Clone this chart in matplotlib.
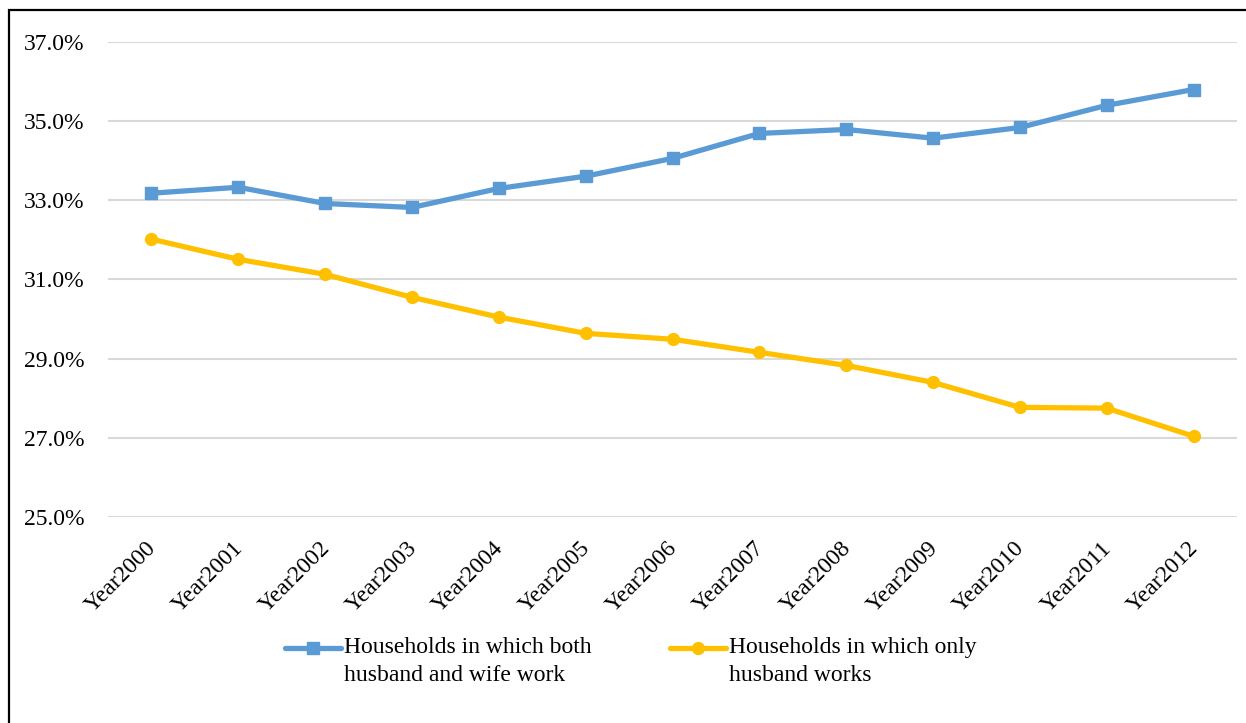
import matplotlib.pyplot as plt
from matplotlib.lines import Line2D
from matplotlib.patches import Rectangle
from matplotlib.ticker import FuncFormatter
from matplotlib.transforms import ScaledTranslation

# Chart data
years = ["Year2000", "Year2001", "Year2002", "Year2003", "Year2004", "Year2005", "Year2006",
         "Year2007", "Year2008", "Year2009", "Year2010", "Year2011", "Year2012"]
both_work = [33.18, 33.33, 32.92, 32.82, 33.30, 33.61, 34.06, 34.69, 34.79, 34.57, 34.84, 35.40, 35.80]
husband_only = [32.02, 31.51, 31.13, 30.55, 30.05, 29.64, 29.49, 29.16, 28.83, 28.40, 27.77, 27.75, 27.04]
labels = ["Households in which both\nhusband and wife work", "Households in which only\nhusband works"]
yticks = [25, 27, 29, 31, 33, 35, 37]

blue = "#5B9BD5"
yellow = "#FFC000"
FS = 17

plt.rcParams["font.family"] = ["Liberation Serif", "DejaVu Serif"]

W, H = 1246, 723
fig = plt.figure(figsize=(W / 100, H / 100), dpi=100)
ax = fig.add_axes([108 / W, 1 - 517 / H, (1237 - 108) / W, (517 - 42) / H])

x = range(len(years))
ax.plot(x, both_work, color=blue, lw=3.8, marker="s", ms=8.5, solid_joinstyle="round", zorder=3)
ax.plot(x, husband_only, color=yellow, lw=3.8, marker="o", ms=8.5, solid_joinstyle="round", zorder=3)

ax.set_xlim(-0.5, len(years) - 0.5)
ax.set_ylim(25, 37)
ax.set_yticks(yticks)
ax.yaxis.set_major_formatter(FuncFormatter(lambda v, p: "%.1f%%" % v))
ax.yaxis.grid(True, color="#D9D9D9", lw=1.5)
ax.set_axisbelow(True)
ax.set_xticks(list(x))
ax.set_xticklabels(years, rotation=45, ha="right", rotation_mode="anchor")
ax.tick_params(axis="both", length=0, labelsize=FS, colors="#000000")
ax.tick_params(axis="y", pad=17)
ax.tick_params(axis="x", pad=15)
# nudge the slanted year labels a little to the left, like the reference
shift = ScaledTranslation(-6 / 100, 0, fig.dpi_scale_trans)
for lbl in ax.get_xticklabels():
    lbl.set_transform(lbl.get_transform() + shift)
for s in ax.spines.values():
    s.set_visible(False)

# legend drawn by hand so the handle sits on the first text line
def legend_item(x0, color, marker, text):
    y = 1 - 648 / H
    fig.add_artist(Line2D([x0 / W, (x0 + 56) / W], [y, y], color=color, lw=3.8,
                          solid_capstyle="round", transform=fig.transFigure))
    fig.add_artist(Line2D([(x0 + 28) / W], [y], color=color, marker=marker, ms=8.5,
                          transform=fig.transFigure))
    fig.text((x0 + 59) / W, 1 - 637 / H, text, fontsize=FS, va="top", ha="left",
             linespacing=1.45)

legend_item(285, blue, "s", labels[0])
legend_item(670, yellow, "o", labels[1])

# outer frame (only the top and left edges are inside the picture)
fig.add_artist(Rectangle((9 / W, -0.1), 1.2, 1 - 10 / H + 0.1, transform=fig.transFigure,
                         fill=False, edgecolor="black", lw=1.6))

fig.savefig("out.png", dpi=100)
